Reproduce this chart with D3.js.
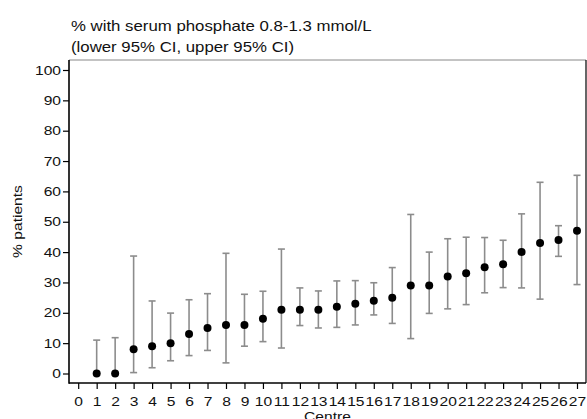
<!DOCTYPE html>
<html>
<head>
<meta charset="utf-8">
<script src="https://cdn.jsdelivr.net/npm/d3@7"></script>
<style>
  html, body { margin: 0; padding: 0; background: #fff; }
  svg { display: block; font-family: "Liberation Sans", Arial, sans-serif; }
</style>
</head>
<body>
<svg id="chart" width="587" height="419"></svg>
<script>
// Centre number, estimate and 95% CI
const centres = d3.range(1, 28);
const pct   = [0, 0, 8, 9, 10, 13, 15, 16, 16, 18, 21, 21, 21, 22, 23, 24, 25, 29, 29, 32, 33, 35, 36, 40, 43, 44, 47];
const lower = [0, 0, 0.3, 1.9, 4.2, 5.9, 7.6, 3.5, 9.0, 10.5, 8.4, 15.8, 15.0, 15.2, 16.0, 19.3, 16.5, 11.5, 19.8, 21.3, 22.7, 26.6, 28.3, 28.2, 24.5, 38.6, 29.3];
const upper = [11.0, 11.8, 38.7, 23.9, 19.9, 24.3, 26.3, 39.6, 26.1, 27.1, 41.0, 28.2, 27.2, 30.5, 30.6, 29.9, 34.9, 52.4, 40.0, 44.4, 44.9, 44.8, 43.9, 52.6, 63.0, 48.7, 65.3];
const xTicks = d3.range(0, 28);
const yTicks = d3.range(0, 101, 10);

const svg = d3.select("#chart");
const frame = { left: 69, right: 586, top: 60, bottom: 383 };
// the source picture's text is drawn a bit wide
const stretch = 1.2;

const x = d3.scaleLinear().domain([0, 27]).range([78.2, 577]);
const y = d3.scaleLinear().domain([0, 100]).range([373.5, 70]);

// Title
const title = svg.append("text").attr("transform", `translate(71,0) scale(${stretch},1)`)
  .attr("font-size", 14).attr("fill", "#111");
title.append("tspan").attr("x", 0).attr("y", 31).text("% with serum phosphate 0.8-1.3 mmol/L");
title.append("tspan").attr("x", 0).attr("y", 52).text("(lower 95% CI, upper 95% CI)");

// Frame: grey top, black right
svg.append("line").attr("x1", frame.left).attr("x2", frame.right).attr("y1", frame.top).attr("y2", frame.top)
  .attr("stroke", "#888").attr("stroke-width", 1);
svg.append("line").attr("x1", frame.right).attr("x2", frame.right).attr("y1", frame.top).attr("y2", frame.bottom)
  .attr("stroke", "#000").attr("stroke-width", 1.2);

// Axes
const yAxis = svg.append("g").attr("transform", `translate(${frame.left},0)`)
  .call(d3.axisLeft(y).tickValues(yTicks).tickSize(6).tickPadding(2));
const xAxis = svg.append("g").attr("transform", `translate(0,${frame.bottom})`)
  .call(d3.axisBottom(x).tickValues(xTicks).tickSize(6).tickPadding(8));

[yAxis, xAxis].forEach((g) => {
  g.select(".domain").remove();
  g.selectAll(".tick line").attr("stroke", "#000").attr("stroke-width", 1.2);
  g.selectAll(".tick text").attr("font-size", 13).attr("fill", "#111")
    .attr("font-family", "Liberation Sans, Arial, sans-serif")
    .attr("transform", `scale(${stretch},1)`);
});
yAxis.selectAll(".tick text").attr("x", -8 / stretch);

svg.append("line").attr("x1", frame.left).attr("x2", frame.left).attr("y1", frame.top).attr("y2", frame.bottom + 0.8)
  .attr("stroke", "#000").attr("stroke-width", 1.6);
svg.append("line").attr("x1", frame.left).attr("x2", frame.right).attr("y1", frame.bottom).attr("y2", frame.bottom)
  .attr("stroke", "#000").attr("stroke-width", 1.6);

// Axis titles
svg.append("text").attr("transform", `translate(22,${(frame.top + frame.bottom) / 2}) rotate(-90) scale(${stretch},1)`)
  .attr("text-anchor", "middle").attr("font-size", 13).attr("fill", "#111").text("% patients");
svg.append("text").attr("transform", `translate(${(frame.left + frame.right) / 2},420.5) scale(${stretch},1)`)
  .attr("text-anchor", "middle").attr("font-size", 13).attr("fill", "#111").text("Centre");

// Error bars
const rows = centres.map((c, i) => ({ c, v: pct[i], lo: lower[i], hi: upper[i] }));
const capHalf = 3.5;
const bars = svg.append("g").attr("stroke", "#8c8c8c").attr("stroke-width", 1.6);
bars.selectAll(".stem").data(rows).join("line")
  .attr("x1", (d) => x(d.c)).attr("x2", (d) => x(d.c))
  .attr("y1", (d) => y(d.lo)).attr("y2", (d) => y(d.hi));
bars.selectAll(".capHi").data(rows).join("line")
  .attr("x1", (d) => x(d.c) - capHalf).attr("x2", (d) => x(d.c) + capHalf)
  .attr("y1", (d) => y(d.hi)).attr("y2", (d) => y(d.hi));
bars.selectAll(".capLo").data(rows.filter((d) => d.lo > 0)).join("line")
  .attr("x1", (d) => x(d.c) - capHalf).attr("x2", (d) => x(d.c) + capHalf)
  .attr("y1", (d) => y(d.lo)).attr("y2", (d) => y(d.lo));

// Points
svg.append("g").selectAll("circle").data(rows).join("circle")
  .attr("cx", (d) => x(d.c)).attr("cy", (d) => y(d.v)).attr("r", 4).attr("fill", "#000");
</script>
</body>
</html>
